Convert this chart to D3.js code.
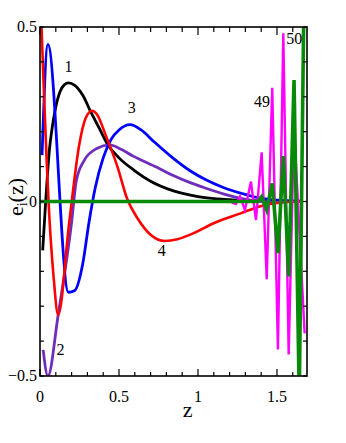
<!DOCTYPE html>
<html><head><meta charset="utf-8"><script src="https://cdn.jsdelivr.net/npm/d3@7"></script></head>
<body style="margin:0">
<script>
const fontName = "'Liberation Serif'";

// tick labels
const xTickLabels = [0, 0.5, 1, 1.5];
const yTickLabels = [-0.5, 0, 0.5];

// curves: [z, e_i(z)]
const curve1 = [[0.017,-0.14],[0.036,0],[0.06,0.15],[0.075,0.205],[0.095,0.26],[0.127,0.315],
  [0.155,0.335],[0.18,0.34],[0.22,0.333],[0.27,0.305],[0.316,0.262],[0.375,0.21],[0.43,0.162],
  [0.5,0.125],[0.6,0.088],[0.7,0.058],[0.84,0.031],[1.0,0.014],[1.2,0.005],[1.4,0.001],[1.5,0]];
const curve2 = [[0.02,-0.425],[0.05,-0.5],[0.115,-0.325],[0.2,-0.06],[0.23,0.06],[0.28,0.118],
  [0.36,0.152],[0.44,0.162],[0.52,0.148],[0.59,0.13],[0.74,0.098],[0.84,0.075],[0.95,0.054],
  [1.05,0.038],[1.16,0.022],[1.27,0.009],[1.4,0.001],[1.5,0]];
const curve3 = [[0.013,0.133],[0.05,0.45],[0.18,-0.26],[0.22,-0.255],[0.27,-0.18],[0.31,-0.06],
  [0.35,0.04],[0.4,0.125],[0.45,0.178],[0.5,0.205],[0.57,0.22],[0.64,0.205],[0.72,0.172],
  [0.84,0.125],[0.95,0.088],[1.05,0.062],[1.16,0.04],[1.27,0.024],[1.37,0.012],[1.5,0.004],[1.65,0.001]];
const curve4 = [[0.008,0.52],[0.06,-0.05],[0.085,-0.21],[0.115,-0.325],[0.185,-0.06],
  [0.25,0.167],[0.29,0.24],[0.33,0.26],[0.36,0.25],[0.42,0.185],[0.49,0.1],[0.55,0.01],
  [0.62,-0.05],[0.7,-0.095],[0.79,-0.113],[0.87,-0.108],[0.95,-0.095],[1.11,-0.06],
  [1.27,-0.034],[1.39,-0.014],[1.5,-0.004],[1.66,0]];
const curve49 = [[0,0],[1.2,0],[1.24,-0.007],[1.266,0.014],[1.297,-0.024],[1.335,0.057],
  [1.367,-0.053],[1.403,0.141],[1.435,-0.223],[1.47,0.326],[1.506,-0.424],[1.54,0.482],
  [1.574,-0.438],[1.608,0.214],[1.675,-0.378]];
const curve50 = [[0,0],[1.38,0],[1.403,0.014],[1.435,-0.024],[1.47,0.052],[1.506,-0.148],
  [1.54,0.13],[1.574,-0.215],[1.608,0.348],[1.641,-0.56],[1.671,0.6]];

const series = [
  { name: "1", data: curve1, color: "#000000", width: 2.8, smooth: true },
  { name: "2", data: curve2, color: "#6f2dbd", width: 2.8, smooth: true },
  { name: "3", data: curve3, color: "#0000ff", width: 2.8, smooth: true },
  { name: "4", data: curve4, color: "#ff0000", width: 2.6, smooth: true },
  { name: "49", data: curve49, color: "#ff00ff", width: 2.4, smooth: false },
  { name: "50", data: curve50, color: "#078a07", width: 3.6, smooth: false }
];

// where the curve numbers sit
const curveLabels = [
  { text: "1", z: 0.18, v: 0.37 },
  { text: "2", z: 0.13, v: -0.44 },
  { text: "3", z: 0.58, v: 0.255 },
  { text: "4", z: 0.77, v: -0.155 },
  { text: "49", z: 1.405, v: 0.27 },
  { text: "50", z: 1.61, v: 0.45 }
];

const width = 346, height = 443;
const mLeft = 40, mRight = 307, mTop = 27, mBottom = 376;

const svg = d3.select("body").append("svg")
  .attr("width", width)
  .attr("height", height)
  .style("font-family", fontName);

const x = d3.scaleLinear().domain([0, 1.69]).range([mLeft, mRight]);
const y = d3.scaleLinear().domain([-0.5, 0.5]).range([mBottom, mTop]);

svg.append("clipPath").attr("id", "clip")
  .append("rect")
  .attr("x", mLeft).attr("y", mTop)
  .attr("width", mRight - mLeft).attr("height", mBottom - mTop);

const minorX = d3.range(0, 1.69, 0.1).map(d => +d.toFixed(2));
const minorY = d3.range(-0.5, 0.51, 0.1).map(d => +d.toFixed(2));

// texts first, so nothing drawn earlier can affect their font
const textG = svg.append("g").style("font-family", fontName);

// tick labels as plain text from the scales
textG.selectAll(".xlab")
  .data(xTickLabels)
  .enter().append("text")
  .attr("class", "xlab")
  .attr("x", d => x(d))
  .attr("y", mBottom + 26)
  .attr("text-anchor", "middle")
  .style("font-family", fontName)
  .style("font-size", "16px")
  .text(d => d3.format("")(d));

textG.selectAll(".ylab")
  .data(yTickLabels)
  .enter().append("text")
  .attr("class", "ylab")
  .attr("x", mLeft - 3)
  .attr("y", d => y(d) + 5)
  .attr("text-anchor", "end")
  .style("font-family", fontName)
  .style("font-size", "16px")
  .text(d => d3.format("")(d));

// axis titles
textG.append("text")
  .attr("x", x(0.935)).attr("y", 417)
  .attr("text-anchor", "middle")
  .style("font-family", fontName)
  .style("font-size", "22px")
  .text("z");

const yTitle = textG.append("text")
  .attr("transform", `translate(23,197) rotate(-90)`)
  .attr("text-anchor", "middle")
  .style("font-family", fontName)
  .style("font-size", "22px");
yTitle.append("tspan").text("e");
yTitle.append("tspan").style("font-size", "14px").attr("dy", 4).text("i");
yTitle.append("tspan").attr("dy", -4).text("(z)");

// curves
const plot = svg.append("g").attr("clip-path", "url(#clip)");
series.forEach(s => {
  const line = d3.line()
    .x(d => x(d[0])).y(d => y(d[1]))
    .curve(s.smooth ? d3.curveMonotoneX : d3.curveLinear);
  plot.append("path")
    .datum(s.data)
    .attr("d", line)
    .attr("fill", "none")
    .attr("stroke", s.color)
    .attr("stroke-width", s.width)
    .attr("stroke-linejoin", "miter");
});

// frame
svg.append("rect")
  .attr("x", mLeft).attr("y", mTop)
  .attr("width", mRight - mLeft).attr("height", mBottom - mTop)
  .attr("fill", "none").attr("stroke", "#000").attr("stroke-width", 1.6);

// ticks (inward)
const isMajorX = d => xTickLabels.some(t => Math.abs(t - d) < 1e-6);
const tickG = svg.append("g").attr("stroke", "#000").attr("stroke-width", 1.2);
minorX.forEach(d => {
  const len = isMajorX(d) ? 7 : 4;
  tickG.append("line").attr("x1", x(d)).attr("x2", x(d)).attr("y1", mBottom).attr("y2", mBottom - len);
  tickG.append("line").attr("x1", x(d)).attr("x2", x(d)).attr("y1", mTop).attr("y2", mTop + len + 1);
});
minorY.forEach(d => {
  tickG.append("line").attr("x1", mLeft).attr("x2", mLeft + 4).attr("y1", y(d)).attr("y2", y(d));
  tickG.append("line").attr("x1", mRight).attr("x2", mRight - 4).attr("y1", y(d)).attr("y2", y(d));
});

// curve numbers
svg.append("g").selectAll(".clabel")
  .data(curveLabels)
  .enter().append("text")
  .attr("class", "clabel")
  .attr("x", d => x(d.z))
  .attr("y", d => y(d.v))
  .attr("text-anchor", "middle")
  .style("font-family", fontName)
  .style("font-size", "16px")
  .text(d => d.text);
</script></body></html>
